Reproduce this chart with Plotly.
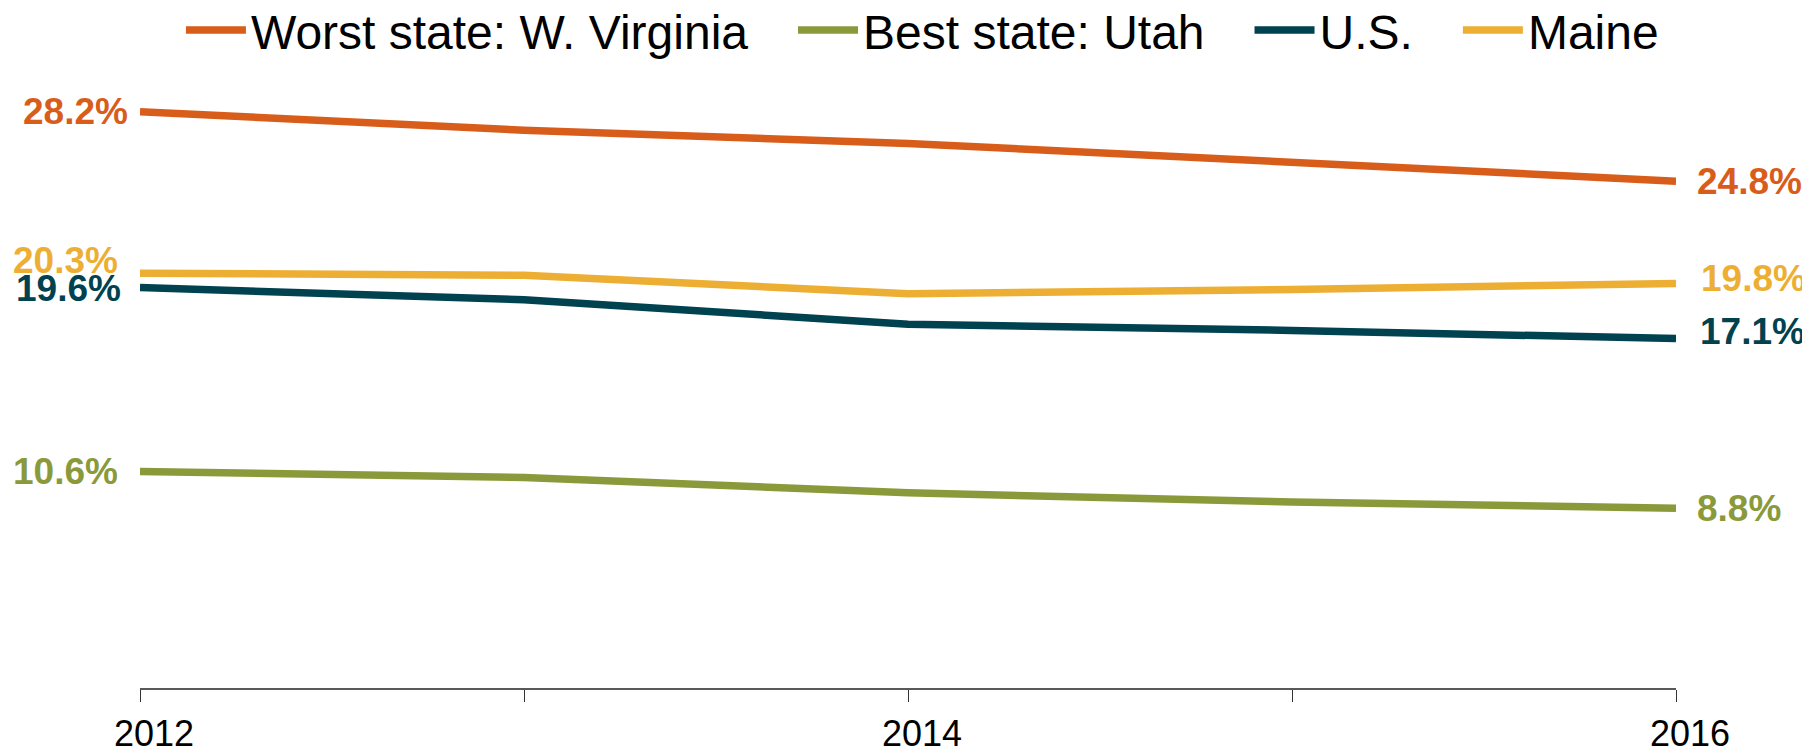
import plotly.graph_objects as go

years = [2012, 2013, 2014, 2015, 2016]
tick_labels = ["2012", "", "2014", "", "2016"]

series_names = ["Worst state: W. Virginia", "Best state: Utah", "U.S.", "Maine"]
wv = [28.2, 27.3, 26.65, 25.7, 24.8]
utah = [10.6, 10.3, 9.55, 9.1, 8.8]
us = [19.6, 19.0, 17.8, 17.5, 17.1]
maine = [20.3, 20.2, 19.3, 19.5, 19.8]

colors = ["#D85D1A", "#8A9A3B", "#00424F", "#EDAF33"]
values = [wv, utah, us, maine]

# label offsets (pixels) for start / end labels: (xshift, yshift)
start_shift = [(-10, 0), (-20, 0), (-17, -1), (-20, 13)]
end_shift = [(19, 0), (19, 0), (22, 7), (23, 5)]

FONT = "Liberation Sans, Arial, sans-serif"
PAD = "\u00a0\u00a0\u00a0"  # spacing between legend entries

fig = go.Figure()
n = len(series_names)
for i, (name, vals, col) in enumerate(zip(series_names, values, colors)):
    fig.add_trace(go.Scatter(
        x=years, y=vals, mode="lines",
        name=name + (PAD if i < n - 1 else ""),
        line=dict(color=col, width=7.5),
        hoverinfo="skip",
    ))

annotations = []
for vals, col, ss, es in zip(values, colors, start_shift, end_shift):
    annotations.append(dict(
        x=years[0], y=vals[0], xref="x", yref="y",
        text=f"<b>{vals[0]:.1f}%</b>", showarrow=False,
        xanchor="right", yanchor="middle",
        xshift=ss[0], yshift=ss[1],
        font=dict(family=FONT, size=37, color=col),
    ))
    annotations.append(dict(
        x=years[-1], y=vals[-1], xref="x", yref="y",
        text=f"<b>{vals[-1]:.1f}%</b>", showarrow=False,
        xanchor="left", yanchor="middle",
        xshift=es[0], yshift=es[1],
        font=dict(family=FONT, size=37, color=col),
    ))

fig.update_layout(
    width=1794, height=739,
    margin=dict(l=132, r=126, t=67, b=59, autoexpand=False),
    paper_bgcolor="white", plot_bgcolor="white",
    font=dict(family=FONT, color="black"),
    showlegend=True,
    legend=dict(
        orientation="h", x=0.5094, xanchor="center", xref="paper",
        y=1.073, yanchor="middle",
        font=dict(family=FONT, size=48, color="black"),
        itemwidth=60, tracegroupgap=0,
        bgcolor="rgba(0,0,0,0)",
    ),
    annotations=annotations,
)

fig.update_xaxes(
    range=[2012, 2016],
    tickmode="array", tickvals=years, ticktext=tick_labels,
    ticks="outside", ticklen=12, tickwidth=1, tickcolor="#333333",
    showline=True, linecolor="#595959", linewidth=2,
    showgrid=False, zeroline=False,
    tickfont=dict(family=FONT, size=36, color="black"),
    ticklabelshift=14, ticklabelstandoff=1,
)
fig.update_yaxes(
    range=[0, 30], visible=False, showgrid=False, zeroline=False,
)

fig.write_html("out.html")
